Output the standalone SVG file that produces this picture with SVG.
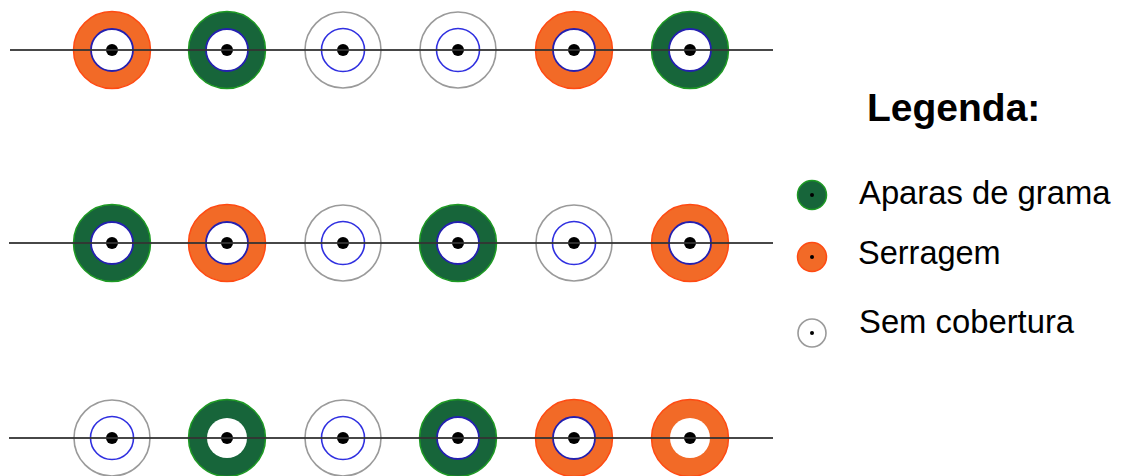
<svg xmlns="http://www.w3.org/2000/svg" width="1128" height="476" viewBox="0 0 1128 476">
<style>
.or{fill:#F26A27;stroke:#FF4A12;stroke-width:1.5}
.gr{fill:#17653A;stroke:#1E9A24;stroke-width:1.5}
.wh{fill:#fff;stroke:#9a9a9a;stroke-width:1.6}
.in{fill:#fff;stroke:none}
.bl{fill:#fff;stroke:#3030E0;stroke-width:1.6}
.bd{fill:#fff;stroke:#2420B0;stroke-width:1.8}
.dot{fill:#000}
.ln{stroke:#333;stroke-width:2;stroke-opacity:0.9}
text{font-family:"Liberation Sans",Arial,sans-serif;fill:#000}
</style>
<defs>
<g id="orB"><circle class="or" r="38.5"/><circle class="bd" r="21"/><circle class="dot" r="6"/></g>
<g id="grB"><circle class="gr" r="38.5"/><circle class="bd" r="21"/><circle class="dot" r="6"/></g>
<g id="whB"><circle class="wh" r="38"/><circle class="bl" r="21.5"/><circle class="dot" r="6"/></g>
<g id="orN"><circle class="or" r="38.5"/><circle class="in" r="20"/><circle class="dot" r="6"/></g>
<g id="grN"><circle class="gr" r="38.5"/><circle class="in" r="20"/><circle class="dot" r="6"/></g>
</defs>
<g id="row1">
<use id="r1c1" href="#orB" x="112" y="50"/>
<use id="r1c2" href="#grB" x="227" y="50"/>
<use id="r1c3" href="#whB" x="343" y="50"/>
<use id="r1c4" href="#whB" x="458" y="50"/>
<use id="r1c5" href="#orB" x="574" y="50"/>
<use id="r1c6" href="#grB" x="690" y="50"/>
</g>
<g id="row2">
<use id="r2c1" href="#grB" x="112" y="243"/>
<use id="r2c2" href="#orB" x="227" y="243"/>
<use id="r2c3" href="#whB" x="343" y="243"/>
<use id="r2c4" href="#grB" x="458" y="243"/>
<use id="r2c5" href="#whB" x="574" y="243"/>
<use id="r2c6" href="#orB" x="690" y="243"/>
</g>
<g id="row3">
<use id="r3c1" href="#whB" x="112" y="438"/>
<use id="r3c2" href="#grN" x="227" y="438"/>
<use id="r3c3" href="#whB" x="343" y="438"/>
<use id="r3c4" href="#grB" x="458" y="438"/>
<use id="r3c5" href="#orB" x="574" y="438"/>
<use id="r3c6" href="#orN" x="690" y="438"/>
</g>
<g id="connectors">
<line class="ln" x1="10" y1="50" x2="773" y2="50"/>
<line class="ln" x1="9" y1="243" x2="773" y2="243"/>
<line class="ln" x1="9" y1="438" x2="773" y2="438"/>
</g>
<g id="legend">
<text x="867" y="121" font-size="39" font-weight="bold">Legenda:</text>
<g id="leg-grama"><circle class="gr" cx="812" cy="195" r="14.5"/><circle class="dot" cx="812" cy="195" r="2"/><text x="859" y="204" font-size="32.8">Aparas de grama</text></g>
<g id="leg-serragem"><circle class="or" cx="812" cy="257" r="14.5"/><circle class="dot" cx="812" cy="257" r="2"/><text x="858" y="264" font-size="32.5">Serragem</text></g>
<g id="leg-sem"><circle class="wh" cx="812" cy="333" r="14"/><circle class="dot" cx="812" cy="333" r="2"/><text x="859" y="333" font-size="32.8">Sem cobertura</text></g>
</g>
</svg>
